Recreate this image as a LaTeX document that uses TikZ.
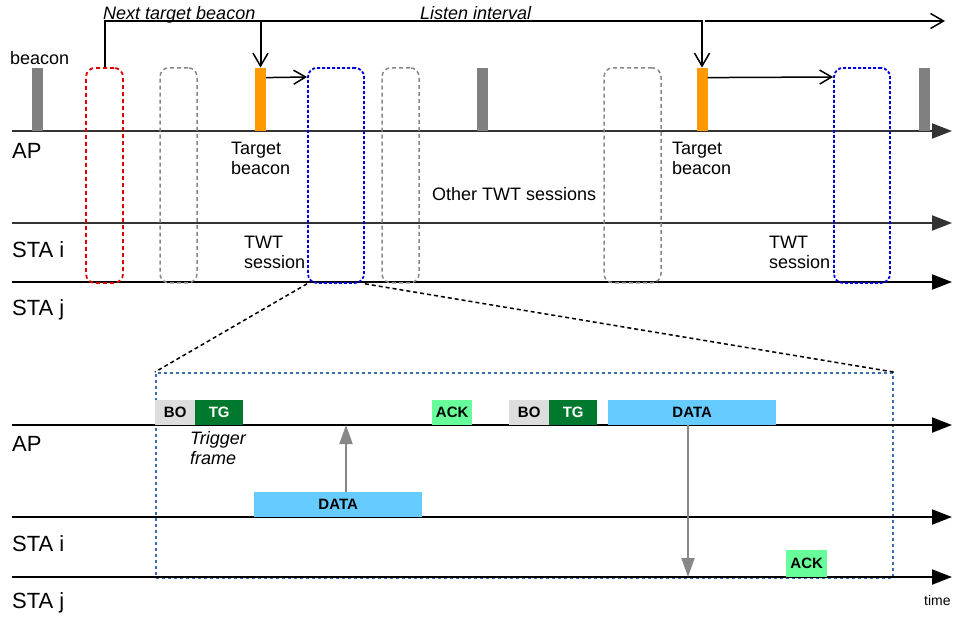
\documentclass[tikz,border=0pt]{standalone}
\usepackage{fontspec}
\setmainfont{Liberation Sans}
\usetikzlibrary{arrows.meta}

\begin{document}
\begin{tikzpicture}[x=1pt,y=-1pt,>=Latex]

% Colors
\definecolor{bcngray}{RGB}{128,128,128}
\definecolor{tbcn}{RGB}{255,153,0}
\definecolor{sesred}{RGB}{221,0,0}
\definecolor{sesblue}{RGB}{0,0,221}
\definecolor{sesgray}{RGB}{136,136,136}
\definecolor{zoomblue}{RGB}{59,109,181}
\definecolor{bofill}{RGB}{221,221,221}
\definecolor{tgfill}{RGB}{0,120,45}
\definecolor{ackfill}{RGB}{102,255,153}
\definecolor{datafill}{RGB}{102,204,255}
\definecolor{txgray}{RGB}{136,136,136}

% Styles
\tikzset{
  lane/.style={
    line width=2pt,
    -{Triangle[length=20pt,width=15pt]}
  },
  lanelabel/.style={
    anchor=base west,
    inner sep=0pt,
    font=\fontsize{22}{22}\selectfont
  },
  note/.style={
    anchor=base west,
    inner sep=0pt,
    align=left,
    font=\fontsize{18}{20}\selectfont
  },
  beaconbar/.style={
    rectangle,
    fill=bcngray,
    minimum width=11pt,
    minimum height=63pt,
    inner sep=0pt,
    anchor=south
  },
  targetbar/.style={
    beaconbar,
    fill=tbcn
  },
  session/.style={
    rectangle,
    rounded corners=9pt,
    line width=1.8pt,
    dash pattern=on 4pt off 3pt,
    minimum height=215pt,
    inner sep=0pt,
    anchor=north
  },
  bracket/.style={
    line width=2pt,
    -{Straight Barb[length=13pt,width=15pt,line width=1.5pt]}
  },
  pointer/.style={
    line width=1.5pt,
    -{Straight Barb[length=12pt,width=14pt,line width=1.5pt]}
  },
  pkt/.style={
    rectangle,
    inner sep=0pt,
    minimum height=25pt,
    anchor=south west,
    font=\bfseries\fontsize{15}{15}\selectfont
  },
  txarrow/.style={
    line width=2pt,
    draw=txgray,
    -{Triangle[length=19pt,width=13pt]}
  }
}

\useasboundingbox (0,0) rectangle (957,616);

% ----------------------------
% Upper part: beacons and TWT sessions
% ----------------------------

% Lanes
\coordinate (ap0) at (12,131);  \coordinate (ap1) at (952,131);
\coordinate (si0) at (12,223);  \coordinate (si1) at (952,223);
\coordinate (sj0) at (12,282);  \coordinate (sj1) at (952,282);

\draw[lane,draw=black!80] (ap0) -- (ap1);
\draw[lane,draw=black!80] (si0) -- (si1);
\draw[lane] (sj0) -- (sj1);

\node[lanelabel] (lap) at (12,158) {AP};
\node[lanelabel] (lsi) at (12,257) {STA i};
\node[lanelabel] (lsj) at (12,315) {STA j};

% Sessions
\node[session,draw=sesred,minimum width=37pt] (s1) at (104.5,67) {};
\node[session,draw=sesgray,line width=1.5pt,minimum width=37pt] (s2) at (178.5,67) {};
\node[session,draw=sesblue,dash pattern=on 3pt off 2pt,minimum width=56pt] (b1) at (336,67) {};
\node[session,draw=sesgray,line width=1.5pt,minimum width=37pt] (s3) at (400.5,67) {};
\node[session,draw=sesgray,line width=1.5pt,minimum width=57pt] (s4) at (632.5,67) {};
\node[session,draw=sesblue,dash pattern=on 3pt off 2pt,minimum width=56pt] (b2) at (862,67) {};

% Beacons
\node[beaconbar] (bc1) at (37.5,131) {};
\node[targetbar] (tb1) at (260.5,131) {};
\node[beaconbar] (bc2) at (482.5,131) {};
\node[targetbar] (tb2) at (702,131) {};
\node[beaconbar] (bc3) at (924.5,131) {};

% Next target beacon / listen interval
\coordinate (top) at (0,21);
\coordinate (li0) at (262,21);
\coordinate (li1) at (705,21);
\coordinate (liend) at (945,21);

\draw[bracket] (s1.north) |- (tb1.north |- top) -- (tb1.north);
\draw[bracket] (li0) -| (tb2.north);
\draw[bracket] (li1) -- (liend);

\draw[pointer] ([yshift=-10pt]tb1.north east) -- ([yshift=-10pt]b1.north west);
\draw[pointer] ([yshift=-10pt]tb2.north east) -- ([yshift=-10pt]b2.north west);

% Texts (base = last line)
\node[note] (nbcn) at (10,64) {beacon};
\node[note,font=\itshape\fontsize{18}{20}\selectfont] (nnext) at (103,19) {Next target beacon};
\node[note,font=\itshape\fontsize{18}{20}\selectfont] (nlisten) at (420,19) {Listen interval};
\node[note] (ntb1) at (231,174) {Target\\beacon};
\node[note] (ntb2) at (672,174) {Target\\beacon};
\node[note] (nother) at (432,200) {Other TWT sessions};
\node[note] (ntwt1) at (244,268) {TWT\\session};
\node[note] (ntwt2) at (769,268) {TWT\\session};

% ----------------------------
% Lower part: zoom on one TWT session
% ----------------------------

\node[
  rectangle,
  draw=zoomblue,
  line width=1.5pt,
  dash pattern=on 3pt off 3pt,
  minimum width=737pt,
  minimum height=205pt,
  inner sep=0pt,
  anchor=north west
] (zoom) at (155,372) {};

\draw[line width=1.5pt,dash pattern=on 4pt off 3pt] (b1.south west) -- (zoom.north west);
\draw[line width=1.5pt,dash pattern=on 4pt off 3pt] (b1.south east) -- (zoom.north east);

% Lanes
\coordinate (zap0) at (12,425);  \coordinate (zap1) at (952,425);
\coordinate (zsi0) at (12,517);  \coordinate (zsi1) at (952,517);
\coordinate (zsj0) at (12,577);  \coordinate (zsj1) at (952,577);

\draw[lane] (zap0) -- (zap1);
\draw[lane] (zsi0) -- (zsi1);
\draw[lane] (zsj0) -- (zsj1);

\node[lanelabel] (zlap) at (12,451) {AP};
\node[lanelabel] (zlsi) at (12,551) {STA i};
\node[lanelabel] (zlsj) at (12,608) {STA j};
\node[anchor=base west,inner sep=0pt,font=\fontsize{14}{14}\selectfont] (ltime) at (924,605) {time};

% Frames
\node[pkt,fill=bofill,minimum width=40pt] (bo1) at (155,425) {BO};
\node[pkt,fill=tgfill,text=white,minimum width=48pt] (tg1) at (195,425) {TG};
\node[pkt,fill=ackfill,minimum width=40pt] (ack1) at (432,425) {ACK};
\node[pkt,fill=bofill,minimum width=40pt] (bo2) at (509,425) {BO};
\node[pkt,fill=tgfill,text=white,minimum width=48pt] (tg2) at (549,425) {TG};
\node[pkt,fill=datafill,minimum width=168pt] (dap) at (608,425) {DATA};
\node[pkt,fill=datafill,minimum width=168pt] (dsi) at (254,517) {DATA};
\node[pkt,fill=ackfill,minimum width=41pt,minimum height=27pt] (ack2) at (786,577) {ACK};

\node[note,font=\itshape\fontsize{18}{20}\selectfont] (ntrig) at (190,464) {Trigger\\frame};

% Transmissions
\coordinate (up) at (346,425);
\coordinate (dn) at (688,577);
\draw[txarrow] (up |- dsi.north) -- (up);
\draw[txarrow] (dn |- dap.south) -- (dn);

\end{tikzpicture}
\end{document}
